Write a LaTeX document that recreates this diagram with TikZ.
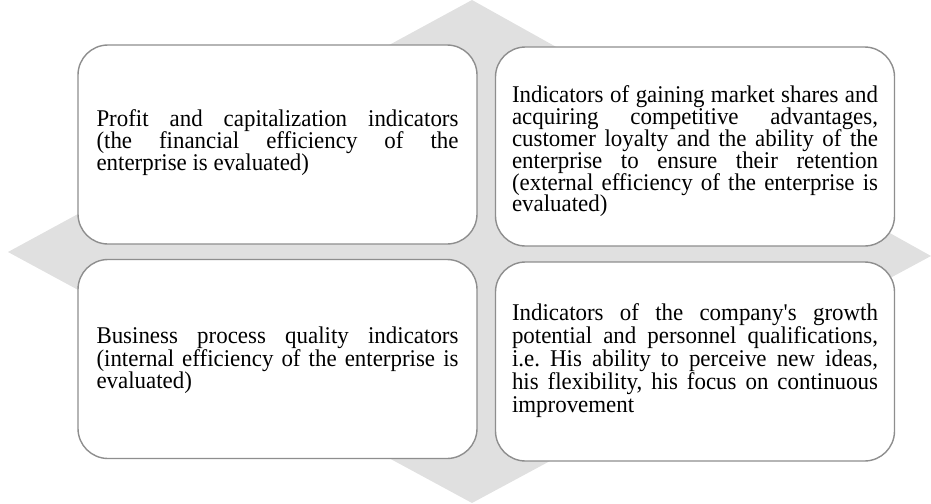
\documentclass[tikz,border=0pt]{standalone}
\usepackage{fontspec}
\setmainfont{Liberation Serif}[FakeStretch=0.955]
\definecolor{boxgray}{HTML}{8E8E8E}
\definecolor{diamondgray}{HTML}{E0E0E0}
\begin{document}
\begin{tikzpicture}[x=1pt,y=-1pt,
  panel/.style={draw=boxgray, line width=1.4pt, fill=white, rounded corners=30pt,
    minimum width=399pt, minimum height=199pt, inner sep=0pt},
  panetext/.style={inner sep=0pt, text width=#1, align=justify,
    execute at begin node={\hyphenpenalty=10000 \frenchspacing \lineskiplimit=-50pt}},
  lead/.style={font=\fontsize{24pt}{#1}\selectfont},
]
\useasboundingbox (0,0) rectangle (931,503);
% grey rhombus behind the four panels
\fill[diamondgray] (472,0) -- (931,256) -- (472,503) -- (8,252) -- cycle;
% the four panels
\node[panel] (tl) at (277.5,144.5) {};
\node[panel] (tr) at (695,146.5) {};
\node[panel] (bl) at (277.5,359) {};
\node[panel] (br) at (695,361.5) {};
% panel texts
\node[panetext=362pt, lead=22.2pt] (tltext) at (277.5,142.6) {Profit and capitalization indicators\linebreak
(the financial efficiency of the\linebreak
enterprise is evaluated)};
\node[panetext=366pt, lead=21.8pt] (trtext) at (695,151.5) {Indicators of gaining market shares and\linebreak
acquiring competitive advantages,\linebreak
customer loyalty and the ability of the\linebreak
enterprise to ensure their retention\linebreak
(external efficiency of the enterprise is\linebreak
evaluated)};
\node[panetext=362pt, lead=22.8pt] (bltext) at (277.5,360.3) {Business process quality indicators\linebreak
(internal efficiency of the enterprise is\linebreak
evaluated)};
\node[panetext=366pt, lead=23pt] (brtext) at (695,360.3) {Indicators of the company\textquotesingle s growth\linebreak
potential and personnel qualifications,\linebreak
i.e. His ability to perceive new ideas,\linebreak
his flexibility, his focus on continuous\linebreak
improvement};
\end{tikzpicture}
\end{document}
